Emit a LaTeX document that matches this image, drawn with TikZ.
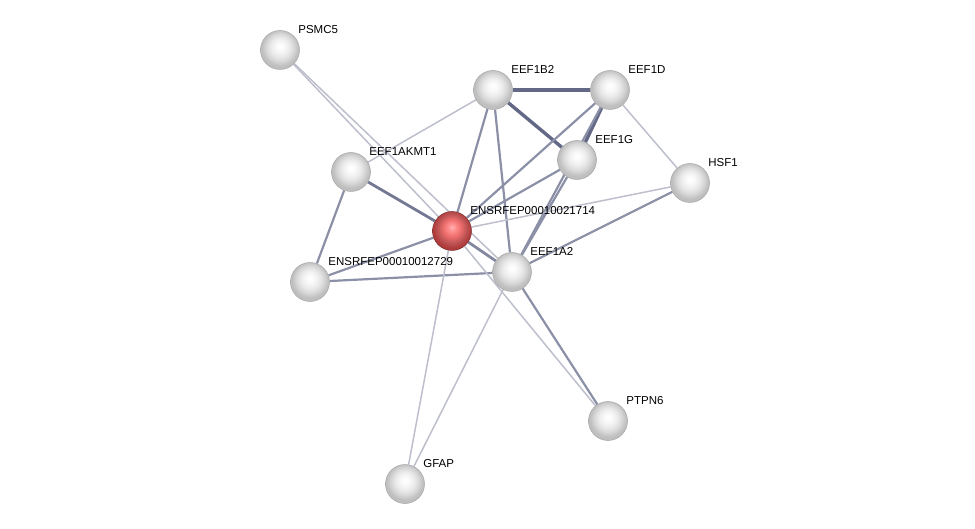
\documentclass[tikz,border=0pt]{standalone}
\usepackage{fontspec}
\setmainfont{Liberation Sans}
\usetikzlibrary{backgrounds}
\definecolor{lnk}{HTML}{5A6080}
\pgfdeclareradialshading{protball}{\pgfpoint{0bp}{5bp}}{color(0bp)=(white); color(5bp)=(white!96!gray); color(12bp)=(white!84!gray); color(18bp)=(white!68!gray); color(23bp)=(white!50!gray); color(50bp)=(white!45!gray)}
\pgfdeclareradialshading{seedball}{\pgfpoint{0bp}{5bp}}{color(0bp)=(red!30!white); color(5bp)=(red!45!white); color(12bp)=(red!55!white!92!black); color(18bp)=(red!55!white!75!black); color(23bp)=(red!60!black!75); color(50bp)=(red!50!black)}
\tikzset{
  prot/.style={circle, minimum size=39pt, inner sep=0pt, draw=gray!70, line width=0.5pt, shading=protball},
  seed/.style={prot, draw=red!35!black!80, shading=seedball},
  lbl/.style={font=\fontsize{11.5}{13}\selectfont, inner sep=1pt, anchor=west, label distance=7pt},
  weak/.style={draw=lnk!40, line width=1.5pt},
  mid/.style={draw=lnk!70, line width=2.2pt},
  strong/.style={draw=lnk!95, line width=3.4pt}
}
\begin{document}
\begin{tikzpicture}[x=1pt, y=-1pt]
    \useasboundingbox (0,0) rectangle (975,529);

    % Proteins
    \node[prot, label={[lbl]50:PSMC5}] (psmc5) at (280,50) {};
    \node[prot, label={[lbl]50:EEF1B2}] (eef1b2) at (493,90) {};
    \node[prot, label={[lbl]50:EEF1D}] (eef1d) at (610,90) {};
    \node[prot, label={[lbl]50:EEF1G}] (eef1g) at (577,160) {};
    \node[prot, label={[lbl]50:HSF1}] (hsf1) at (690,183) {};
    \node[prot, label={[lbl]50:EEF1AKMT1}] (akmt1) at (351,172) {};
    \node[seed, label={[lbl]50:ENSRFEP00010021714}] (rf21714) at (452,231) {};
    \node[prot, label={[lbl]50:EEF1A2}] (eef1a2) at (512,272) {};
    \node[prot, label={[lbl]50:ENSRFEP00010012729}] (rf12729) at (310,282) {};
    \node[prot, label={[lbl]50:PTPN6}] (ptpn6) at (608,421) {};
    \node[prot, label={[lbl]50:GFAP}] (gfap) at (405,484) {};

    % Interactions
    \begin{pgfonlayer}{background}
    \draw[weak] (psmc5) -- (rf21714);
    \draw[weak] (psmc5) -- (eef1a2);
    \draw[strong] (eef1b2) -- (eef1d);
    \draw[strong] (eef1b2) -- (eef1g);
    \draw[strong] (eef1d) -- (eef1g);
    \draw[weak] (eef1b2) -- (akmt1);
    \draw[mid] (eef1b2) -- (rf21714);
    \draw[mid] (eef1b2) -- (eef1a2);
    \draw[mid] (eef1d) -- (rf21714);
    \draw[mid] (eef1d) -- (eef1a2);
    \draw[weak] (eef1d) -- (hsf1);
    \draw[mid] (eef1g) -- (rf21714);
    \draw[mid] (eef1g) -- (eef1a2);
    \draw[weak] (hsf1) -- (rf21714);
    \draw[mid] (hsf1) -- (eef1a2);
    \draw[strong, draw=lnk!85, line width=2.8pt] (akmt1) -- (rf21714);
    \draw[mid] (akmt1) -- (rf12729);
    \draw[mid] (rf12729) -- (rf21714);
    \draw[mid] (rf12729) -- (eef1a2);
    \draw[strong, draw=lnk!75, line width=2.8pt] (rf21714) -- (eef1a2);
    \draw[weak] (rf21714) -- (gfap);
    \draw[weak] (eef1a2) -- (gfap);
    \draw[mid] (eef1a2) -- (ptpn6);
    \draw[weak] (rf21714) -- (ptpn6);
    \end{pgfonlayer}
\end{tikzpicture}
\end{document}
